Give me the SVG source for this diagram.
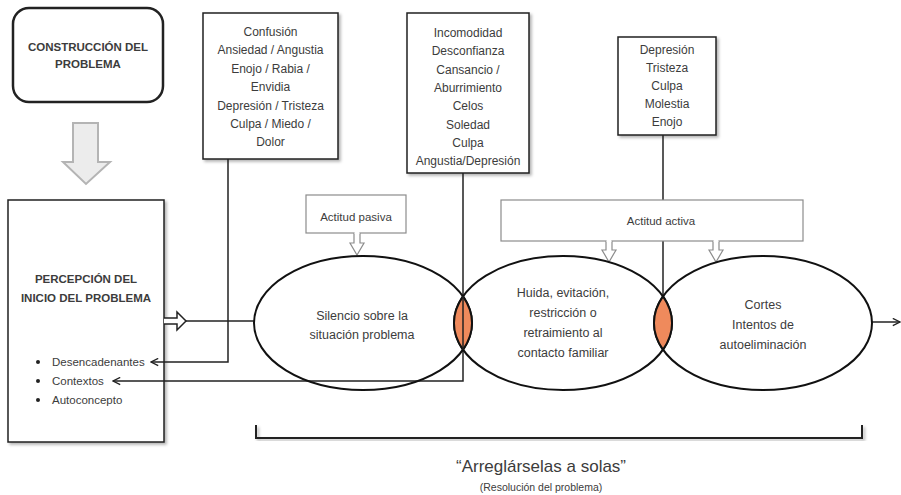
<svg xmlns="http://www.w3.org/2000/svg" width="901" height="495" viewBox="0 0 901 495">
<defs>
<filter id="sh" x="-10%" y="-10%" width="130%" height="130%">
<feDropShadow dx="2" dy="2" stdDeviation="1.5" flood-color="#000" flood-opacity="0.3"/>
</filter>
<marker id="chev" viewBox="0 0 10 10" refX="9" refY="5" markerWidth="9" markerHeight="9" markerUnits="userSpaceOnUse" orient="auto">
<path d="M1,1 L9,5 L1,9" fill="none" stroke="#222" stroke-width="1.5"/>
</marker>
</defs>
<style>
text{font-family:"Liberation Sans",Arial,sans-serif;fill:#3c3c3c;text-anchor:middle}
.b{font-weight:bold;font-size:11.5px}
.t{font-size:12px}
.e{font-size:12.5px}
.s{font-size:11.5px;text-anchor:start}
.box{fill:#fff;stroke:#222;stroke-width:1.5}
.ln{fill:none;stroke:#222;stroke-width:1.5}
.ell{fill:none;stroke:#111;stroke-width:2}
.lens{fill:#ef8a5c;stroke:#111;stroke-width:2}
.call{fill:#fff;stroke:#8c8c8c;stroke-width:1.2}
</style>
<rect width="901" height="495" fill="#fff"/>

<g id="construccion">
<rect x="13" y="8" width="150" height="94" rx="16" fill="#fff" stroke="#222" stroke-width="2.5"/>
<text class="b" x="88" y="51">CONSTRUCCIÓN DEL</text>
<text class="b" x="88" y="68">PROBLEMA</text>
</g>

<g id="flecha-gris">
<path d="M73,123 H98 V162 H110 L86,184 L63,162 H73 Z" fill="#ececec" stroke="#b4b4b4" stroke-width="2"/>
</g>

<g id="percepcion">
<rect class="box" x="8" y="200" width="156" height="242" filter="url(#sh)" stroke-width="2"/>
<text class="b" x="86" y="283">PERCEPCIÓN DEL</text>
<text class="b" x="86" y="302">INICIO DEL PROBLEMA</text>
<circle cx="38" cy="362" r="2" fill="#222"/>
<circle cx="38" cy="381" r="2" fill="#222"/>
<circle cx="38" cy="400" r="2" fill="#222"/>
<text class="s" x="52" y="366">Desencadenantes</text>
<text class="s" x="52" y="385">Contextos</text>
<text class="s" x="52" y="404">Autoconcepto</text>
</g>

<g id="emociones1">
<rect class="box" x="203" y="13" width="135" height="146" filter="url(#sh)"/>
<text class="t" x="270.5" y="36">Confusión</text>
<text class="t" x="270.5" y="54.4">Ansiedad / Angustia</text>
<text class="t" x="270.5" y="72.8">Enojo / Rabia /</text>
<text class="t" x="270.5" y="91.2">Envidia</text>
<text class="t" x="270.5" y="109.6">Depresión / Tristeza</text>
<text class="t" x="270.5" y="128">Culpa / Miedo /</text>
<text class="t" x="270.5" y="146.4">Dolor</text>
</g>

<g id="emociones2">
<rect class="box" x="407" y="13" width="122" height="160" filter="url(#sh)"/>
<text class="t" x="468" y="37">Incomodidad</text>
<text class="t" x="468" y="55.3">Desconfianza</text>
<text class="t" x="468" y="73.6">Cansancio /</text>
<text class="t" x="468" y="91.9">Aburrimiento</text>
<text class="t" x="468" y="110.2">Celos</text>
<text class="t" x="468" y="128.5">Soledad</text>
<text class="t" x="468" y="146.8">Culpa</text>
<text class="t" x="468" y="165.1">Angustia/Depresión</text>
</g>

<g id="emociones3">
<rect class="box" x="618" y="37" width="98" height="98" filter="url(#sh)"/>
<text class="t" x="667" y="54">Depresión</text>
<text class="t" x="667" y="72">Tristeza</text>
<text class="t" x="667" y="90">Culpa</text>
<text class="t" x="667" y="108">Molestia</text>
<text class="t" x="667" y="126">Enojo</text>
</g>

<g id="connectors">
<path d="M164,318 H177 V312 L186,321 L177,330 V324 H164" fill="#fff" stroke="#222" stroke-width="1.5"/>
<line class="ln" x1="186" y1="321" x2="254" y2="321"/>
<path class="ln" d="M228,159 V362 H151" marker-end="url(#chev)"/>
<path class="ln" d="M463,173 V381 H113" marker-end="url(#chev)"/>
<line class="ln" x1="663" y1="135" x2="663" y2="296"/>
<line class="ln" x1="872" y1="322" x2="900" y2="322" marker-end="url(#chev)"/>
</g>

<g id="actitud-pasiva">
<rect class="call" x="306" y="195" width="100" height="38"/>
<path class="call" d="M354,233 V243 H350 L357,255 L364,243 H360 V233"/>
<line x1="354.6" y1="233" x2="359.4" y2="233" stroke="#fff" stroke-width="2"/>
<text class="s" x="356" y="221" style="text-anchor:middle">Actitud pasiva</text>
</g>

<g id="actitud-activa">
<rect class="call" x="501" y="200" width="302" height="41"/>
<path class="call" d="M606,241 V250 H602 L609,262 L616,250 H612 V241"/>
<path class="call" d="M713,241 V250 H709 L716,262 L723,250 H719 V241"/>
<line x1="606.6" y1="241" x2="611.4" y2="241" stroke="#fff" stroke-width="2"/>
<line x1="713.6" y1="241" x2="718.4" y2="241" stroke="#fff" stroke-width="2"/>
<text class="s" x="661" y="225" style="text-anchor:middle">Actitud activa</text>
</g>

<g id="silencio">
<ellipse class="ell" cx="363" cy="323" rx="109" ry="67"/>
<text class="e" x="362" y="320">Silencio sobre la</text>
<text class="e" x="362" y="338.5">situación problema</text>
</g>

<g id="huida">
<ellipse class="ell" cx="563" cy="323" rx="109" ry="67"/>
<text class="e" x="563" y="297">Huida, evitación,</text>
<text class="e" x="563" y="317">restricción o</text>
<text class="e" x="563" y="337">retraimiento al</text>
<text class="e" x="563" y="357">contacto familiar</text>
</g>

<g id="cortes">
<ellipse class="ell" cx="763" cy="323" rx="109" ry="67"/>
<text class="e" x="763" y="309">Cortes</text>
<text class="e" x="763" y="329">Intentos de</text>
<text class="e" x="763" y="349">autoeliminación</text>
</g>

<g id="interseccion1">
<path class="lens" d="M463,296.3 A109,67 0 0 1 463,349.7 A109,67 0 0 1 463,296.3 Z"/>
<line class="ln" x1="463" y1="296" x2="463" y2="350"/>
</g>
<g id="interseccion2">
<path class="lens" d="M663,296.3 A109,67 0 0 1 663,349.7 A109,67 0 0 1 663,296.3 Z"/>
</g>

<g id="resolucion">
<path d="M256,425 V438 H862 V425" fill="none" stroke="#222" stroke-width="2" filter="url(#sh)"/>
<text x="541" y="472" style="font-size:17px">“Arreglárselas a solas”</text>
<text x="541" y="491" style="font-size:10.5px">(Resolución del problema)</text>
</g>
</svg>
